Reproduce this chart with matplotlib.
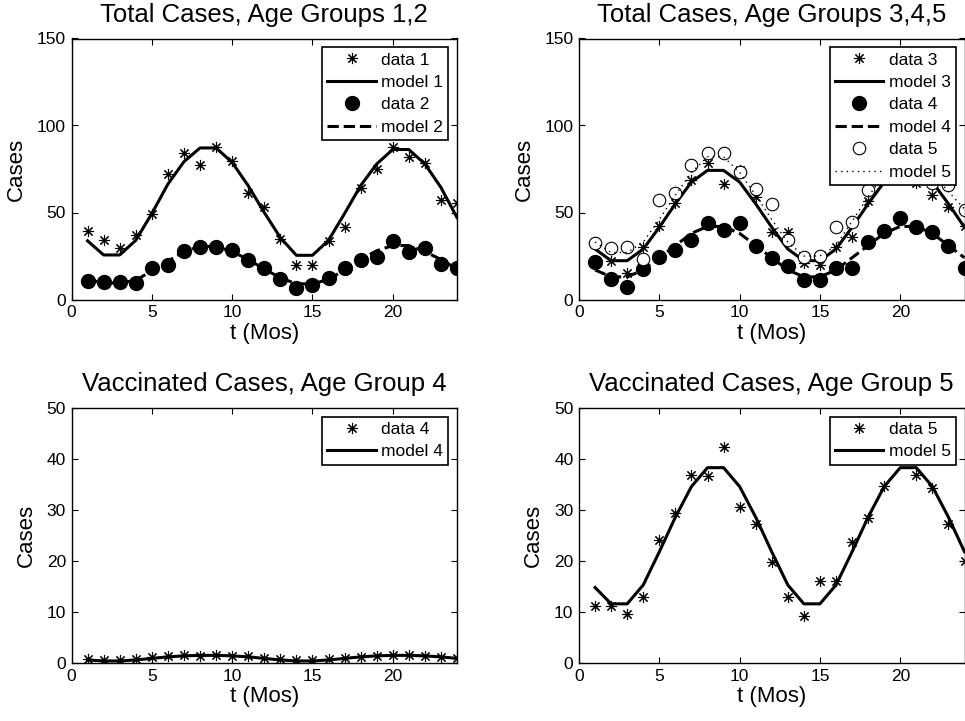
import numpy as np
import matplotlib
matplotlib.use("Agg")
import matplotlib.pyplot as plt

plt.rcParams["font.family"] = ["Liberation Sans", "DejaVu Sans"]

# months
t = np.arange(1, 25)

# ── Total cases, age groups 1,2 ──
data1 = [39.4, 34, 29.4, 36.9, 49.4, 72, 84, 77.3, 87.5, 79.4, 61, 52.9,
         34.6, 19.8, 19.8, 33.7, 41.9, 63.8, 75, 87.5, 82, 78.5, 57.3, 55.4]
model1 = [33.7, 25.6, 25.6, 34, 49.4, 66.3, 79.2, 87.1, 87.1, 78.8, 65.4, 50,
          35.6, 25.4, 25.4, 34, 49.4, 65.4, 77.9, 86.2, 86.2, 77.9, 64.4, 47.1]
data2 = [10.6, 10.2, 10.2, 9.2, 17.9, 19.6, 27.9, 30.4, 30, 28.5, 22.5, 18.3,
         11.5, 6.7, 8.3, 12.1, 18.3, 22.5, 24.6, 33.7, 27.5, 29.4, 20.6, 17.9]
model2 = [11.5, 9.5, 9.5, 11, 16.5, 22, 27.5, 30.5, 30.5, 27.5, 23, 17.5,
          12.5, 9, 9, 11.5, 17, 23, 28, 31, 31, 27.5, 23, 17.5]

# ── Total cases, age groups 3,4,5 ──
data3 = [31.9, 22.3, 15, 30.4, 42.5, 55.4, 68.5, 78.5, 66.5, 74.6, 58.8, 38.7,
         38.7, 20.8, 19.8, 30, 35.8, 56.5, 72, 70.4, 66.9, 59.8, 53, 42]
model3 = [29, 22.3, 22.3, 29, 41.5, 55, 67.5, 74.2, 74.2, 67.5, 55, 41.5,
          29, 22.3, 22.3, 29, 41.5, 55, 67.5, 74, 74, 67.5, 55, 41.5]
data4 = [21.7, 11.7, 6.9, 17.5, 24.2, 28.7, 34.2, 43.8, 40, 43.8, 31, 23.8,
         19, 11.2, 11.2, 17.9, 17.9, 32.9, 39.6, 46.9, 41.9, 39, 31, 17.9]
model4 = [17, 13, 13, 17, 24, 31, 38, 42, 42, 38, 31, 24,
          17, 13, 13, 17, 24, 31, 38, 42, 42, 38, 31, 24]
data5 = [32.5, 29.6, 30, 23.3, 57, 61.2, 77.1, 84.2, 84.4, 73.3, 63.7, 54.6,
         34.2, 24.2, 24.8, 41.9, 44.8, 63, 75, 80, 78, 66.9, 65.6, 51.2]
model5 = [33, 27, 27, 33, 46, 60, 73, 82, 82, 73, 60, 46,
          33, 25, 25, 31, 45, 59, 72, 81, 81, 73, 62, 52]

# ── Vaccinated cases ──
vdata4 = [0.8, 0.5, 0.65, 0.8, 1.2, 1.3, 1.5, 1.45, 1.5, 1.45, 1.3, 1,
          0.8, 0.65, 0.65, 0.8, 1, 1.2, 1.3, 1.6, 1.6, 1.3, 1.1, 1]
vmodel4 = [0.6, 0.4, 0.4, 0.6, 0.9, 1.2, 1.4, 1.5, 1.5, 1.4, 1.2, 0.9,
           0.6, 0.4, 0.4, 0.6, 0.9, 1.2, 1.4, 1.5, 1.5, 1.4, 1.2, 0.9]
vdata5 = [11.1, 11.1, 9.6, 12.9, 24.2, 29.5, 36.8, 36.6, 42.3, 30.6, 27.3, 19.8,
          13, 9.2, 16.1, 16.1, 23.7, 28.5, 34.8, 40, 36.8, 34.3, 27.2, 20]
vmodel5 = [14.8, 11.6, 11.6, 15.3, 21.8, 28.6, 34.6, 38.3, 38.3, 34.6, 28.6, 21.8,
           15.3, 11.6, 11.6, 15.3, 21.8, 28.6, 34.6, 38.3, 38.3, 34.6, 28.6, 21.8]

STAR = (8, 2, 0)   # matlab-like asterisk

W, H = 965, 721
fig = plt.figure(figsize=(W / 100, H / 100), dpi=100)


def px_axes(x0, y0, x1, y1):
    return fig.add_axes([x0 / W, 1 - y1 / H, (x1 - x0) / W, (y1 - y0) / H])


def style(ax, title, ymax, yticks):
    ax.set_xlim(0, 24)
    ax.set_ylim(0, ymax)
    ax.set_xticks([0, 5, 10, 15, 20])
    ax.set_yticks(yticks)
    ax.tick_params(direction="in", top=True, right=True, length=4,
                   labelsize=12.5, pad=4)
    ax.set_title(title, fontsize=18.5, pad=12)
    ax.set_xlabel("t (Mos)", fontsize=16, labelpad=2)
    ax.set_ylabel("Cases", fontsize=16, labelpad=7)
    for s in ax.spines.values():
        s.set_linewidth(1.0)


def legend(ax):
    leg = ax.legend(loc="upper right", fontsize=12.5, handlelength=2.8,
                    handletextpad=0.3, labelspacing=0.42, borderpad=0.3,
                    borderaxespad=0.5, fancybox=False, framealpha=1,
                    edgecolor="black")
    leg.get_frame().set_linewidth(1.2)


def stars(ax, y, label):
    ax.plot(t, y, ls="none", marker=STAR, ms=8, mew=0.8, color="k", label=label)


ax1 = px_axes(71.5, 38.5, 457, 299.5)
stars(ax1, data1, "data 1")
ax1.plot(t, model1, "k-", lw=2.2, label="model 1")
ax1.plot(t, data2, ls="none", marker="o", ms=10, color="k", label="data 2")
ax1.plot(t, model2, "k--", lw=2.2, label="model 2")
style(ax1, "Total Cases, Age Groups 1,2", 150, [0, 50, 100, 150])
legend(ax1)

ax2 = px_axes(579, 38.5, 964.5, 299.5)
stars(ax2, data3, "data 3")
ax2.plot(t, model3, "k-", lw=2.2, label="model 3")
ax2.plot(t, data4, ls="none", marker="o", ms=10, color="k", label="data 4")
ax2.plot(t, model4, "k--", lw=2.2, label="model 4")
ax2.plot(t, data5, ls="none", marker="o", ms=9, mfc="white", mec="k", mew=0.8,
         label="data 5")
ax2.plot(t, model5, color="k", ls=(0, (1, 3)), lw=1.0, label="model 5")
style(ax2, "Total Cases, Age Groups 3,4,5", 150, [0, 50, 100, 150])
legend(ax2)

ax3 = px_axes(71.5, 408, 457, 663)
stars(ax3, vdata4, "data 4")
ax3.plot(t, vmodel4, "k-", lw=2.2, label="model 4")
style(ax3, "Vaccinated Cases, Age Group 4", 50, [0, 10, 20, 30, 40, 50])
legend(ax3)

ax4 = px_axes(579, 408, 964.5, 663)
stars(ax4, vdata5, "data 5")
ax4.plot(t, vmodel5, "k-", lw=2.2, label="model 5")
style(ax4, "Vaccinated Cases, Age Group 5", 50, [0, 10, 20, 30, 40, 50])
legend(ax4)

fig.savefig("out.png", dpi=100)
